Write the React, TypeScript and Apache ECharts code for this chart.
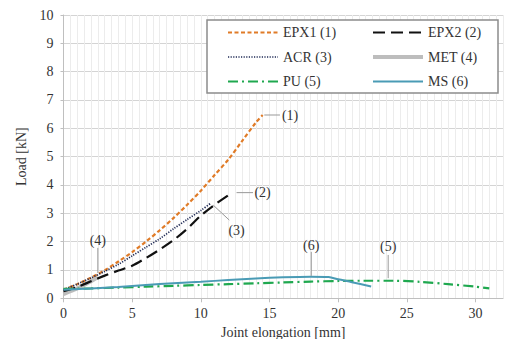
import React, { useEffect, useRef } from "react";
import * as echarts from "echarts";

const FONT = "'Liberation Serif', 'DejaVu Serif', serif";

const xTicks = [0, 5, 10, 15, 20, 25, 30];
const yTicks = [0, 1, 2, 3, 4, 5, 6, 7, 8, 9, 10];

const epx1: number[][] = [[0,0.3],[1,0.5],[2,0.73],[3,0.99],[4,1.3],[5,1.63],[6,2.0],[7,2.4],[8,2.83],[9,3.3],[10,3.8],[11,4.35],[12,4.9],[13,5.55],[14,6.2],[14.5,6.47]];
const epx2: number[][] = [[0,0.25],[1,0.4],[2,0.6],[3,0.8],[4,0.98],[5,1.15],[6,1.42],[7,1.72],[8,2.05],[9,2.45],[10,2.92],[11,3.3],[12.2,3.7]];
const acr: number[][] = [[0,0.3],[1,0.5],[2,0.72],[3,0.95],[4,1.2],[5,1.5],[6,1.8],[7,2.1],[8,2.45],[9,2.78],[10,3.1],[10.7,3.35]];
const met: number[][] = [[0,0.15],[0.5,0.25],[1,0.35],[1.5,0.47],[2,0.6],[2.5,0.75]];
const pu: number[][] = [[0,0.33],[2,0.35],[4,0.38],[6,0.41],[8,0.44],[10,0.47],[12,0.5],[14,0.53],[16,0.56],[18,0.59],[20,0.61],[22,0.62],[24,0.62],[26,0.58],[28,0.5],[30,0.41],[31,0.35]];
const ms: number[][] = [[0,0.3],[2,0.35],[4,0.4],[6,0.47],[8,0.53],[10,0.58],[12,0.65],[14,0.7],[16,0.74],[18,0.76],[19.3,0.75],[20,0.67],[21,0.57],[22.4,0.42]];

// annotation leader lines: [x1, y1, x2, y2, label, labelX, labelY, align]
const annotations: [number, number, number, number, string, number, number, string][] = [
  [14.62, 6.47, 15.76, 6.47, "(1)", 15.9, 6.47, "left"],
  [12.6, 3.73, 13.8, 3.73, "(2)", 13.9, 3.73, "left"],
  [10.9, 3.29, 12.07, 2.76, "(3)", 12.6, 2.4, "center"],
  [2.5, 0.89, 2.5, 1.78, "(4)", 2.5, 2.04, "center"],
  [18.04, 0.79, 18.04, 1.64, "(6)", 18.04, 1.88, "center"],
  [23.64, 0.71, 23.64, 1.53, "(5)", 23.64, 1.82, "center"],
];

const legendItems = [
  { name: "EPX1 (1)", color: "#e07b27", width: 2.2, dash: [4, 2.5] },
  { name: "EPX2 (2)", color: "#111111", width: 2.2, dash: [12, 6] },
  { name: "ACR (3)", color: "#1f2a55", width: 1.7, dash: [1.2, 1.4] },
  { name: "MET (4)", color: "#bdbdbd", width: 4, dash: null },
  { name: "PU (5)", color: "#1fa84f", width: 2.2, dash: [10, 4, 2, 4] },
  { name: "MS (6)", color: "#4a9bb5", width: 2, dash: null },
];
const seriesData = [epx1, epx2, acr, met, pu, ms];

export default function App() {
  const ref = useRef<HTMLDivElement>(null);
  useEffect(() => {
    document.body.style.margin = "0";
    const chart = echarts.init(ref.current!, null, { renderer: "svg" });
    const series: any[] = legendItems.map((it, i) => ({
      type: "line",
      name: it.name,
      data: seriesData[i],
      showSymbol: false,
      smooth: 0.3,
      xAxisIndex: 0,
      yAxisIndex: 0,
      z: i === 3 ? 1 : 3,
      lineStyle: { color: it.color, width: it.width, type: it.dash ? it.dash : "solid", cap: "butt" },
    }));
    series.push({ type: "line", data: [], xAxisIndex: 1, yAxisIndex: 0 });
    chart.setOption({
      animation: false,
      textStyle: { fontFamily: FONT },
      grid: { left: 63.5, right: 6, top: 15, bottom: 40.7, outerBoundsMode: "none", containLabel: false },
      xAxis: [
        {
          type: "value", min: 0, max: 32, interval: 0.5,
          axisLine: { show: false }, axisTick: { show: false }, axisLabel: { show: false },
          splitLine: { show: true, lineStyle: { color: "#ececec", width: 1 } },
        },
        {
          type: "value", min: 0, max: 32, interval: 5, position: "bottom",
          name: "Joint elongation [mm]", nameLocation: "middle", nameGap: 26,
          nameTextStyle: { fontFamily: FONT, fontSize: 14, color: "#333" },
          axisLine: { show: true, onZero: false, lineStyle: { color: "#bfbfbf" } },
          axisTick: { show: true, length: 4, lineStyle: { color: "#bfbfbf" } },
          axisLabel: {
            margin: 8, fontFamily: FONT, fontSize: 14, color: "#333", showMaxLabel: false,
            formatter: (v: number) => (xTicks.includes(v) ? String(v) : ""),
          },
          splitLine: { show: false },
        },
      ],
      yAxis: {
        type: "value", min: 0, max: 10, interval: 1,
        name: "Load [kN]", nameLocation: "middle", nameGap: 33,
        nameTextStyle: { fontFamily: FONT, fontSize: 14, color: "#333" },
        axisLine: { show: true, lineStyle: { color: "#bfbfbf" } },
        axisTick: { show: true, length: 3, lineStyle: { color: "#bfbfbf" } },
        axisLabel: {
          margin: 10, fontFamily: FONT, fontSize: 14, color: "#333",
          formatter: (v: number) => (yTicks.includes(v) ? String(v) : ""),
        },
        splitLine: { show: true, lineStyle: { color: "#d4d4d4", width: 1 } },
      },
      series,
    });

    const g: any[] = [];
    for (const a of annotations) {
      const p1 = chart.convertToPixel({ gridIndex: 0 }, [a[0], a[1]]) as number[];
      const p2 = chart.convertToPixel({ gridIndex: 0 }, [a[2], a[3]]) as number[];
      const pl = chart.convertToPixel({ gridIndex: 0 }, [a[5], a[6]]) as number[];
      g.push({
        type: "line", silent: true, z: 50,
        shape: { x1: p1[0], y1: p1[1], x2: p2[0], y2: p2[1] },
        style: { stroke: "#999", lineWidth: 1 },
      });
      g.push({
        type: "text", silent: true, z: 50, x: pl[0], y: pl[1],
        style: { text: a[4], fontFamily: FONT, fontSize: 14, fill: "#333", align: a[7], verticalAlign: "middle" },
      });
    }
    // legend box
    g.push({
      type: "rect", z: 60, shape: { x: 207, y: 20, width: 291, height: 73 },
      style: { fill: "#fff", stroke: "#8c8c8c", lineWidth: 1.5 },
    });
    const rows = [32.5, 57, 81.5];
    legendItems.forEach((it, i) => {
      const col = i % 2;
      const row = Math.floor(i / 2);
      const lx = col === 0 ? 228 : 373;
      const y = rows[row];
      g.push({
        type: "line", z: 61,
        shape: { x1: lx, y1: y, x2: lx + 50, y2: y },
        style: { stroke: it.color, lineWidth: it.width, lineDash: it.dash || undefined },
      });
      g.push({
        type: "text", z: 61, x: lx + 55, y,
        style: { text: it.name, fontFamily: FONT, fontSize: 14, fill: "#333", verticalAlign: "middle" },
      });
    });
    chart.setOption({ graphic: g });
    return () => chart.dispose();
  }, []);
  return <div ref={ref} style={{ width: 509, height: 339 }} />;
}
